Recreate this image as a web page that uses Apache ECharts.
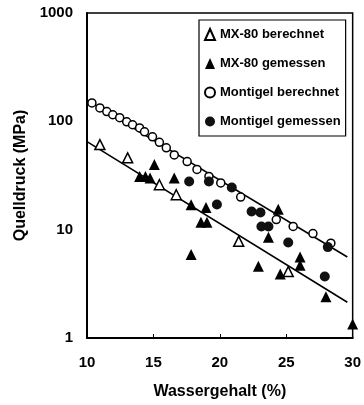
<!DOCTYPE html>
<html>
<head>
<meta charset="utf-8">
<script src="https://cdn.jsdelivr.net/npm/echarts@6/dist/echarts.min.js"></script>
<style>html,body{margin:0;padding:0;background:#fff}#c{width:364px;height:405px}</style>
</head>
<body>
<div id="c"></div>
<script>
// Data
const seriesNames = ['MX-80 berechnet', 'MX-80 gemessen', 'Montigel berechnet', 'Montigel gemessen'];
const mxCalc = [[10.97,61],[13.06,46],[15.45,26],[16.72,21],[21.42,7.8],[25.15,4.1]];
const mxMeas = [[13.96,31],[14.4,31],[14.75,30],[15.07,40],[16.57,30],[17.84,17],[18.96,16],[18.58,11.7],[19.03,11.7],[17.84,5.9],[24.4,15.4],[23.66,8.5],[22.9,4.6],[24.55,3.9],[26.04,5.6],[26.04,4.7],[27.99,2.4],[30,1.35]];
const moCalc = [[10.37,148],[10.97,133],[11.49,123],[11.94,115],[12.46,108],[12.99,99],[13.43,93],[13.96,87],[14.33,80],[14.93,72],[15.45,64],[15.97,57],[16.57,49],[17.54,42.5],[18.28,36],[19.18,31],[20.07,27],[21.57,20],[24.25,12.4],[25.52,10.7],[27.01,9.2],[28.36,7.5]];
const moMeas = [[17.69,27.8],[19.18,27.8],[19.78,17.1],[20.9,24.5],[22.39,14.7],[23.06,14.4],[23.13,10.7],[23.66,10.7],[25.15,7.6],[28.13,6.9],[27.9,3.7]];
const moFit = [[10,157],[29.6,5.6]];
const mxFit = [[10,65],[29.6,2.14]];
const xTicks = [10, 15, 20, 25, 30];
const yTicks = [1, 10, 100, 1000];

const FONT = '"Liberation Sans", Arial, sans-serif';
const chart = echarts.init(document.getElementById('c'), null, {renderer: 'canvas'});
const openStyle = {color: '#fff', borderColor: '#000', borderWidth: 1.5, opacity: 1};
const fillStyle = {color: '#000', borderColor: '#000', borderWidth: 0, opacity: 1};
chart.setOption({
  animation: false,
  backgroundColor: '#fff',
  textStyle: {fontFamily: FONT},
  grid: {left: 87, top: 13, width: 270, height: 326, show: true, borderColor: '#000', borderWidth: 1.5, backgroundColor: 'transparent'},
  legend: {
    orient: 'vertical', left: 199, top: 20,
    data: seriesNames,
    itemWidth: 10, itemHeight: 11, itemGap: 16,
    padding: [8, 5, 8, 5],
    borderColor: '#000', borderWidth: 1.2,
    textStyle: {fontFamily: FONT, fontWeight: 'bold', fontSize: 13, color: '#000'},
    selectedMode: false
  },
  xAxis: {
    type: 'value', min: xTicks[0], max: xTicks[xTicks.length - 1], interval: 5,
    name: 'Wassergehalt (%)', nameLocation: 'middle', nameGap: 46,
    nameTextStyle: {fontFamily: FONT, fontWeight: 'bold', fontSize: 16, color: '#000'},
    axisLine: {lineStyle: {color: '#000', width: 2}},
    axisTick: {show: true, inside: true, length: 4, lineStyle: {color: '#000', width: 1}},
    axisLabel: {margin: 17, fontFamily: FONT, fontWeight: 'bold', fontSize: 15, color: '#000'},
    splitLine: {show: false}
  },
  yAxis: {
    type: 'log', logBase: 10, min: yTicks[0], max: yTicks[yTicks.length - 1],
    name: 'Quelldruck (MPa)', nameLocation: 'middle', nameGap: 55,
    nameTextStyle: {fontFamily: FONT, fontWeight: 'bold', fontSize: 16, color: '#000'},
    axisLine: {lineStyle: {color: '#000', width: 2}},
    axisTick: {show: false},
    minorTick: {show: false},
    axisLabel: {margin: 14, fontFamily: FONT, fontWeight: 'bold', fontSize: 15, color: '#000',
      formatter: function (v) { return String(Math.round(v)); }},
    splitLine: {show: false}
  },
  series: [
    {name: 'fitMo', type: 'line', data: moFit, showSymbol: false, symbol: 'none', lineStyle: {color: '#000', width: 1.6}, z: 1, silent: true},
    {name: 'fitMx', type: 'line', data: mxFit, showSymbol: false, symbol: 'none', lineStyle: {color: '#000', width: 1.6}, z: 1, silent: true},
    {name: seriesNames[0], type: 'scatter', data: mxCalc, symbol: 'triangle', symbolSize: 10, itemStyle: openStyle, z: 3},
    {name: seriesNames[1], type: 'scatter', data: mxMeas, symbol: 'triangle', symbolSize: 11, itemStyle: fillStyle, z: 4, clip: false},
    {name: seriesNames[2], type: 'scatter', data: moCalc, symbol: 'circle', symbolSize: 8, itemStyle: openStyle, z: 3},
    {name: seriesNames[3], type: 'scatter', data: moMeas, symbol: 'circle', symbolSize: 10, itemStyle: {color: '#111', borderWidth: 0, opacity: 1}, z: 4}
  ]
});
</script>
</body>
</html>
